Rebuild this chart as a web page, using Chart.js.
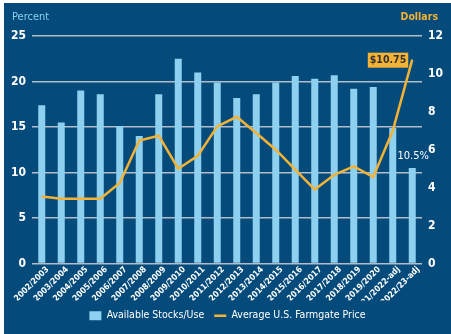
<!DOCTYPE html>
<html>
<head>
<meta charset="utf-8">
<script src="https://cdn.jsdelivr.net/npm/chart.js@4.4.0/dist/chart.umd.min.js"></script>
<style>
  html, body { margin: 0; padding: 0; background: #ffffff; }
  .panel {
    position: absolute; left: 4px; top: 3px;
    width: 447px; height: 331px;
    background: #044a7a;
  }
</style>
</head>
<body>
<div class="panel"><canvas id="myChart" width="447" height="331"></canvas></div>
<script>
const seasons = [
	"2002/2003", "2003/2004", "2004/2005", "2005/2006", "2006/2007",
	"2007/2008", "2008/2009", "2009/2010", "2010/2011", "2011/2012",
	"2012/2013", "2013/2014", "2014/2015", "2015/2016", "2016/2017",
	"2017/2018", "2018/2019", "2019/2020", "2021/2022-adj", "2022/23-adj",
];
// percent, left axis
const stocksToUse = [
	17.4, 15.5, 19.0, 18.6, 15.1, 14.0, 18.6, 22.5, 21.0, 19.9,
	18.2, 18.6, 19.9, 20.6, 20.3, 20.7, 19.2, 19.4, 14.9, 10.5,
];
// dollars, right axis
const farmgatePrice = [
	3.54, 3.42, 3.42, 3.42, 4.25, 6.49, 6.74, 5.0, 5.68, 7.23,
	7.74, 6.88, 6.0, 4.95, 3.9, 4.68, 5.12, 4.56, 7.0, 10.75,
];
const percentTicks = [0, 5, 10, 15, 20, 25];
const dollarTicks = [0, 2, 4, 6, 8, 10, 12];

const FONT = "'DejaVu Sans Condensed', 'Liberation Sans Narrow', sans-serif";
const BAR_BLUE = "#8dd0f0";
const GOLD = "#f5b335";

// axis captions + value callouts for the last season
const extras = {
	id: "extras",
	afterDatasetsDraw(chart) {
		const c = chart.ctx;
		c.save();
		c.textBaseline = "middle";
		c.font = "11px " + FONT;
		c.fillStyle = "#8fcff0";
		c.textAlign = "left";
		c.fillText("Percent", 8, 14);
		c.font = "bold 10.5px " + FONT;
		c.fillStyle = GOLD;
		c.textAlign = "right";
		c.fillText("Dollars", 434, 14);

		const last = seasons.length - 1;
		const bar = chart.getDatasetMeta(0).data[last];
		c.font = "11px " + FONT;
		c.fillStyle = "#ffffff";
		c.textAlign = "center";
		c.fillText(stocksToUse[last].toFixed(1) + "%", bar.x + 1, bar.y - 12);

		const pt = chart.getDatasetMeta(1).data[last];
		const txt = "$" + farmgatePrice[last].toFixed(2);
		c.font = "bold 10.5px " + FONT;
		const w = c.measureText(txt).width + 4;
		const bx = pt.x - 4 - w, by = pt.y;
		c.fillStyle = GOLD;
		c.fillRect(bx, by - 7, w, 15);
		c.fillStyle = "#333333";
		c.textAlign = "left";
		c.fillText(txt, bx + 2, by + 0.5);
		c.restore();
	},
};

new Chart(document.getElementById("myChart"), {
	data: {
		labels: seasons,
		datasets: [
			{
				type: "bar",
				label: "Available Stocks/Use",
				data: stocksToUse,
				backgroundColor: BAR_BLUE,
				barPercentage: 0.36,
				categoryPercentage: 1,
				yAxisID: "y",
				order: 2,
			},
			{
				type: "line",
				label: "Average U.S. Farmgate Price",
				data: farmgatePrice,
				borderColor: GOLD,
				backgroundColor: GOLD,
				borderWidth: 2.5,
				pointRadius: 0,
				tension: 0,
				yAxisID: "y1",
				order: 1,
			},
		],
	},
	options: {
		responsive: false,
		animation: false,
		layout: { padding: { top: 33, left: 0, right: 0, bottom: 3 } },
		plugins: {
			tooltip: { enabled: false },
			legend: {
				position: "bottom",
				labels: {
					color: "#ffffff",
					font: { family: FONT, size: 10.5 },
					padding: 10,
					generateLabels(chart) {
						return [
							{ text: "Available Stocks/Use", fillStyle: BAR_BLUE, strokeStyle: BAR_BLUE, lineWidth: 0, pointStyle: "rect", fontColor: "#ffffff", datasetIndex: 0 },
							{ text: "Average U.S. Farmgate Price", fillStyle: GOLD, strokeStyle: GOLD, lineWidth: 2.5, pointStyle: "line", fontColor: "#ffffff", datasetIndex: 1 },
						];
					},
					usePointStyle: true,
					boxWidth: 9,
					boxHeight: 9,
					pointStyleWidth: 12,
				},
			},
		},
		scales: {
			x: {
				grid: { display: false, drawTicks: false },
				border: { display: false },
				ticks: {
					color: "#ffffff",
					font: { family: FONT, size: 8.5, weight: "bold" },
					maxRotation: 45,
					minRotation: 45,
					padding: 1,
					labelOffset: 6,
					autoSkip: false,
				},
				afterFit(scale) { scale.height = 37; },
			},
			y: {
				position: "left",
				min: 0,
				max: 25,
				afterBuildTicks(scale) { scale.ticks = percentTicks.map((v) => ({ value: v })); },
				grid: { color: "#b4bcc8", lineWidth: 1.5, drawTicks: false },
				border: { display: false },
				ticks: {
					color: "#ffffff",
					font: { family: FONT, size: 12, weight: "bold" },
					padding: 6,
				},
				afterFit(scale) { scale.width = 28; },
			},
			y1: {
				position: "right",
				min: 0,
				max: 12,
				afterBuildTicks(scale) { scale.ticks = dollarTicks.map((v) => ({ value: v })); },
				grid: { drawOnChartArea: false, drawTicks: false },
				border: { display: false },
				ticks: {
					color: "#ffffff",
					font: { family: FONT, size: 12, weight: "bold" },
					padding: 6,
				},
				afterFit(scale) { scale.width = 29; },
			},
		},
	},
	plugins: [extras],
});
</script>
</body>
</html>
